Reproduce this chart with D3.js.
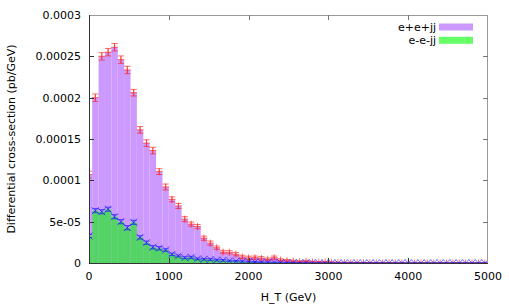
<!DOCTYPE html>
<html><head><meta charset="utf-8">
<script src="https://cdn.jsdelivr.net/npm/d3@7"></script>
<style>
html,body{margin:0;padding:0;background:#fff;}
svg{display:block;font-family:"DejaVu Sans",sans-serif;}
</style></head>
<body>
<svg id="c" width="509" height="305"></svg>
<script>
// ---- data ----
const binCenters = [0,80,160,240,320,400,480,560,640,720,800,880,960,1040,1120,1200,1280,1360,1440,1520,1600,1680,1760,1840,1920,2000,2080,2160,2240,2320,2400,2480,2560,2640,2720,2800,2880,2960,3040,3120,3200,3280,3360,3440,3520,3600,3680,3760,3840,3920,4000,4080,4160,4240,4320,4400,4480,4560,4640,4720,4800,4880,4960];
const binWidth = 80;
const seriesNames = ["e+e+jj","e-e-jj"];
const ppValues = [1.07e-4,2.00e-4,2.50e-4,2.55e-4,2.61e-4,2.46e-4,2.335e-4,2.06e-4,1.61e-4,1.45e-4,1.36e-4,1.105e-4,9.2e-5,7.7e-5,6.9e-5,5.3e-5,4.7e-5,4.4e-5,3.0e-5,2.4e-5,1.85e-5,1.33e-5,1.29e-5,1.06e-5,7.3e-6,6.2e-6,6.4e-6,5.7e-6,4.5e-6,6.4e-6,3.6e-6,2.8e-6,2.2e-6,1.6e-6,2.0e-6,1.2e-6,0.9e-6,1.1e-6,0.7e-6,0.5e-6,0.4e-6,0.3e-6,0.3e-6,0.2e-6,0.2e-6,0.1e-6,0.1e-6,0.1e-6,0,0.1e-6,0,0,0,0,0,0,0,0,0,0,0,0,0];
const ppErrors = [4e-6,4.5e-6,4.5e-6,4.5e-6,4.5e-6,4.5e-6,4.5e-6,4e-6,4e-6,4e-6,4e-6,3.5e-6,3.5e-6,3e-6,3e-6,3e-6,2.5e-6,2.5e-6,2.5e-6,2.5e-6,2e-6,2e-6,2e-6,2e-6,2e-6,2e-6,2e-6,2e-6,1.5e-6,2e-6,1.5e-6,1.5e-6,1.2e-6,1e-6,1.2e-6,1e-6,0.8e-6,0.8e-6,0.6e-6,0.5e-6,0.5e-6,0.4e-6,0.4e-6,0.3e-6,0.3e-6,0.2e-6,0.2e-6,0.2e-6,0,0.2e-6,0,0,0,0,0,0,0,0,0,0,0,0,0];
const mmValues = [3.27e-5,6.33e-5,6.2e-5,6.5e-5,5.6e-5,5.0e-5,4.27e-5,4.92e-5,3.1e-5,2.46e-5,1.9e-5,1.78e-5,1.57e-5,1.05e-5,8.5e-6,6.4e-6,6.9e-6,5e-6,4.5e-6,4.2e-6,3.5e-6,3.2e-6,2.6e-6,2.2e-6,1.8e-6,1.5e-6,1.2e-6,1e-6,0.8e-6,0.6e-6,0.5e-6,0.4e-6,0.3e-6,0.2e-6,0.2e-6,0.1e-6,0.1e-6,0,0,0,0,0,0,0,0,0,0,0,0,0,0,0,0,0,0,0,0,0,0,0,0,0,0];
const mmErrors = [2e-6,2.5e-6,2.5e-6,2.5e-6,2.5e-6,2.5e-6,2.5e-6,2.5e-6,2e-6,2e-6,2e-6,2e-6,1.5e-6,1.5e-6,1.2e-6,1.2e-6,1.2e-6,1e-6,1e-6,1e-6,1e-6,1e-6,0.8e-6,0.8e-6,0.8e-6,0.6e-6,0.6e-6,0.5e-6,0.5e-6,0.4e-6,0.4e-6,0.3e-6,0.3e-6,0.2e-6,0.2e-6,0.1e-6,0.1e-6,0,0,0,0,0,0,0,0,0,0,0,0,0,0,0,0,0,0,0,0,0,0,0,0,0,0];
const xTicks = [0,1000,2000,3000,4000,5000];
const yTicks = [0,5e-5,1e-4,1.5e-4,2e-4,2.5e-4,3e-4];
const yTickLabels = ["0","5e-05","0.0001","0.00015","0.0002","0.00025","0.0003"];
const xLabel = "H_T (GeV)";
const yLabel = "Differential cross-section (pb/GeV)";

// ---- layout ----
const L = 89, R = 488, T = 15, B = 263;
const x = d3.scaleLinear().domain([0,5000]).range([L,R]);
const y = d3.scaleLinear().domain([0,3e-4]).range([B,T]);
const svg = d3.select("#c");
const purple = "#cc99ff", green = "#55d466", greenLeg = "#66ff66";

svg.append("clipPath").attr("id","clip").append("rect")
  .attr("x",L).attr("y",T).attr("width",R-L).attr("height",B-T);
const plot = svg.append("g").attr("clip-path","url(#clip)");

function boxes(vals, color){
  plot.append("g").selectAll("rect").data(binCenters).join("rect")
    .attr("x",(d)=>x(d-binWidth/2))
    .attr("width",(d)=>x(d+binWidth/2)-x(d-binWidth/2))
    .attr("y",(d,i)=>y(vals[i]))
    .attr("height",(d,i)=>B-y(vals[i]))
    .attr("fill",color);
}
boxes(ppValues, purple);
boxes(mmValues, green);

function errs(vals, errors, color, marker){
  const g = plot.append("g").attr("stroke",color).attr("stroke-width",1).attr("fill","none").attr("stroke-opacity",0.65);
  binCenters.forEach((c,i)=>{
    const cx = x(c), v = vals[i], e = errors[i];
    const y1 = y(v+e), y2 = y(v-e);
    const cw = 3.2;
    g.append("line").attr("x1",cx).attr("x2",cx).attr("y1",y1).attr("y2",y2);
    g.append("line").attr("x1",cx-cw).attr("x2",cx+cw).attr("y1",y1).attr("y2",y1);
    g.append("line").attr("x1",cx-cw).attr("x2",cx+cw).attr("y1",y2).attr("y2",y2);
    const cy = y(v), s = 3.5;
    if(marker==="plus"){
      g.append("path").attr("d",`M${cx-s},${cy}H${cx+s}M${cx},${cy-s}V${cy+s}`);
    } else {
      g.append("path").attr("d",`M${cx-s},${cy-s}L${cx+s},${cy+s}M${cx-s},${cy+s}L${cx+s},${cy-s}`);
    }
  });
}
errs(ppValues, ppErrors, "#ff2020", "plus");
errs(mmValues, mmErrors, "#1a1aff", "cross");

// ---- border & ticks ----
svg.append("line").attr("x1",L).attr("x2",R).attr("y1",T+0.5).attr("y2",T+0.5).attr("stroke","#999");
svg.append("line").attr("x1",R-0.5).attr("x2",R-0.5).attr("y1",T).attr("y2",B).attr("stroke","#999");
svg.append("line").attr("x1",L+0.5).attr("x2",L+0.5).attr("y1",T).attr("y2",B+0.5).attr("stroke","#333");
svg.append("line").attr("x1",L).attr("x2",R).attr("y1",B+0.5).attr("y2",B+0.5).attr("stroke","#333");

const tl = 5;
yTicks.forEach((t,i)=>{
  const yy = Math.round(y(t))+0.5;
  if(t>0 && t<3e-4){
    svg.append("line").attr("x1",L).attr("x2",L+tl).attr("y1",yy).attr("y2",yy).attr("stroke","#333");
    svg.append("line").attr("x1",R-tl).attr("x2",R).attr("y1",yy).attr("y2",yy).attr("stroke","#777");
  }
  svg.append("text").attr("x",81).attr("y",y(t)+4).attr("text-anchor","end")
    .attr("font-size",11).attr("fill","#000").text(yTickLabels[i]);
});
xTicks.forEach((t)=>{
  const xx = Math.round(x(t))+0.5;
  if(t>0 && t<5000){
    svg.append("line").attr("x1",xx).attr("x2",xx).attr("y1",B-tl).attr("y2",B).attr("stroke","#333");
    svg.append("line").attr("x1",xx).attr("x2",xx).attr("y1",T).attr("y2",T+tl).attr("stroke","#777");
  }
  svg.append("text").attr("x",x(t)).attr("y",280).attr("text-anchor","middle")
    .attr("font-size",11).attr("fill","#000").text(d3.format("d")(t));
});

svg.append("text").attr("x",(L+R)/2).attr("y",301).attr("text-anchor","middle")
  .attr("font-size",11).text(xLabel);
svg.append("text").attr("transform",`translate(15,${(T+B)/2}) rotate(-90)`)
  .attr("text-anchor","middle").attr("font-size",11).text(yLabel);

// ---- legend ----
const legColors = [purple, greenLeg];
seriesNames.forEach((n,i)=>{
  const cy = 27 + i*13.3;
  svg.append("text").attr("x",436).attr("y",cy+4).attr("text-anchor","end").attr("font-size",11).text(n);
  svg.append("rect").attr("x",439).attr("y",cy-3.5).attr("width",34).attr("height",7).attr("fill",legColors[i]);
});
</script>
</body></html>
